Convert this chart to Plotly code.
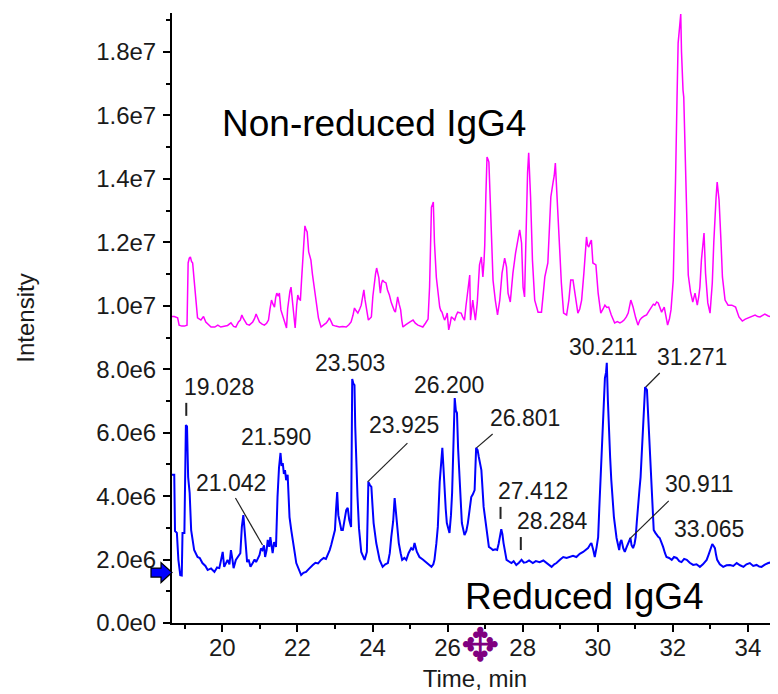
import plotly.graph_objects as go

# ---------------- data ----------------
time_reduced = [18.66, 18.72, 18.74, 18.79, 18.83, 18.88, 18.92, 18.94, 18.99, 19.03, 19.06, 19.09, 19.13, 19.17,
    19.25, 19.34, 19.40, 19.47, 19.55, 19.61, 19.70, 19.79, 19.86, 19.92, 19.96, 20.01, 20.05, 20.10, 20.14,
    20.19, 20.23, 20.27, 20.30, 20.36, 20.43, 20.48, 20.52, 20.56, 20.60, 20.63, 20.66, 20.70, 20.75, 20.81,
    20.86, 20.90, 20.95, 20.99, 21.03, 21.07, 21.11, 21.14, 21.18, 21.21, 21.25, 21.28, 21.31, 21.34, 21.38,
    21.43, 21.47, 21.51, 21.55, 21.58, 21.61, 21.64, 21.67, 21.70, 21.74, 21.79, 21.84, 21.88, 21.93, 21.97,
    22.03, 22.10, 22.16, 22.23, 22.30, 22.36, 22.41, 22.48, 22.55, 22.63, 22.70, 22.76, 22.81, 22.86, 22.90,
    22.95, 23.00, 23.03, 23.06, 23.09, 23.12, 23.17, 23.21, 23.26, 23.30, 23.34, 23.38, 23.43, 23.46, 23.49,
    23.52, 23.54, 23.56, 23.60, 23.64, 23.70, 23.75, 23.79, 23.85, 23.89, 23.93, 23.97, 24.00, 24.03, 24.10,
    24.15, 24.19, 24.27, 24.34, 24.41, 24.46, 24.50, 24.55, 24.59, 24.62, 24.65, 24.70, 24.75, 24.79, 24.85,
    24.90, 24.96, 25.03, 25.08, 25.12, 25.18, 25.25, 25.34, 25.43, 25.50, 25.57, 25.62, 25.65, 25.70, 25.74,
    25.79, 25.83, 25.86, 25.89, 25.92, 25.95, 25.98, 26.05, 26.09, 26.12, 26.16, 26.19, 26.22, 26.25, 26.28,
    26.32, 26.35, 26.38, 26.45, 26.50, 26.54, 26.58, 26.63, 26.67, 26.72, 26.76, 26.80, 26.83, 26.87, 26.90,
    26.96, 27.03, 27.10, 27.16, 27.21, 27.27, 27.32, 27.36, 27.39, 27.43, 27.46, 27.49, 27.57, 27.63, 27.70,
    27.76, 27.83, 27.90, 27.97, 28.03, 28.10, 28.17, 28.27, 28.35, 28.45, 28.55, 28.63, 28.70, 28.77, 28.84,
    28.90, 29.00, 29.08, 29.17, 29.25, 29.34, 29.43, 29.52, 29.61, 29.68, 29.74, 29.80, 29.83, 29.88, 29.92,
    29.97, 30.01, 30.04, 30.07, 30.11, 30.14, 30.17, 30.19, 30.22, 30.24, 30.27, 30.29, 30.33, 30.36, 30.40,
    30.43, 30.50, 30.54, 30.57, 30.60, 30.63, 30.68, 30.72, 30.77, 30.81, 30.87, 30.90, 30.94, 30.98, 31.01,
    31.04, 31.07, 31.11, 31.14, 31.18, 31.21, 31.24, 31.26, 31.29, 31.31, 31.34, 31.37, 31.40, 31.43, 31.46,
    31.49, 31.53, 31.57, 31.61, 31.65, 31.70, 31.74, 31.79, 31.83, 31.90, 31.97, 32.03, 32.10, 32.17, 32.23,
    32.30, 32.37, 32.45, 32.54, 32.63, 32.72, 32.80, 32.90, 32.95, 32.99, 33.05, 33.09, 33.12, 33.15, 33.18,
    33.25, 33.34, 33.43, 33.52, 33.61, 33.70, 33.79, 33.88, 33.96, 34.05, 34.14, 34.23, 34.30, 34.36, 34.45,
    34.54, 34.65, 34.76]

intensity_reduced_e6 = [4.67, 4.67, 2.90, 2.84, 1.99, 1.51, 1.50, 2.84, 2.84, 6.24, 6.20, 4.60, 4.10, 2.93,
    2.30, 2.08, 2.05, 1.89, 1.80, 1.67, 1.72, 1.61, 1.75, 1.73, 1.95, 2.24, 1.77, 1.90, 1.99,
    1.85, 2.30, 2.00, 1.73, 1.99, 2.10, 2.20, 3.03, 3.40, 2.84, 2.20, 1.92, 2.00, 1.77, 1.89,
    2.00, 1.92, 2.05, 2.14, 2.35, 2.30, 2.45, 2.08, 2.30, 2.62, 2.40, 2.71, 2.45, 2.20, 2.55,
    2.40, 3.97, 4.90, 5.36, 4.95, 5.04, 4.70, 4.82, 4.50, 4.67, 3.34, 2.90, 2.52, 2.20, 1.89,
    1.70, 1.51, 1.58, 1.61, 1.70, 1.78, 1.83, 1.90, 1.88, 1.99, 2.05, 2.02, 2.14, 2.30, 2.46,
    2.70, 2.93, 3.60, 4.13, 3.40, 3.25, 2.93, 2.93, 3.30, 3.56, 3.63, 3.25, 3.03, 7.69, 7.55,
    7.50, 6.20, 5.30, 4.00, 2.99, 2.24, 2.10, 1.99, 2.24, 4.45, 4.35, 4.29, 3.70, 3.15, 2.52,
    2.20, 1.99, 1.77, 1.85, 1.89, 2.20, 2.71, 3.20, 3.94, 3.50, 3.15, 2.52, 2.20, 1.99, 2.05,
    1.99, 2.20, 2.36, 2.30, 2.52, 2.25, 2.08, 2.00, 1.92, 1.85, 1.77, 1.85, 1.99, 2.50, 3.03,
    4.45, 5.20, 5.52, 4.90, 4.10, 3.60, 3.15, 2.84, 3.40, 4.10, 5.80, 7.09, 6.70, 6.62, 5.50,
    4.51, 3.80, 3.15, 2.77, 2.90, 3.15, 3.60, 3.97, 4.05, 4.19, 5.52, 5.45, 5.24, 5.00, 4.82,
    3.66, 2.93, 2.40, 2.35, 2.30, 2.32, 2.30, 2.50, 2.71, 2.96, 2.80, 2.52, 1.99, 1.95, 1.89,
    1.95, 1.83, 1.90, 1.99, 1.90, 1.92, 1.97, 1.89, 1.95, 1.92, 1.97, 1.89, 1.82, 1.77, 1.85,
    1.89, 2.00, 2.08, 2.05, 2.08, 2.12, 2.08, 2.18, 2.24, 2.30, 2.36, 2.48, 2.52, 2.30, 2.08,
    2.40, 2.71, 3.60, 4.51, 5.60, 6.46, 7.20, 7.72, 7.90, 8.20, 7.00, 6.18, 5.20, 4.51, 3.90,
    3.34, 2.68, 2.45, 2.30, 2.55, 2.62, 2.35, 2.24, 2.40, 2.52, 2.68, 2.45, 2.36, 2.50, 2.71,
    3.20, 3.78, 4.20, 4.60, 5.60, 6.62, 7.20, 7.44, 7.38, 7.35, 6.60, 5.77, 5.00, 4.19, 3.50,
    2.93, 2.85, 2.77, 2.72, 2.68, 2.55, 2.40, 2.20, 2.08, 2.05, 1.99, 2.08, 2.05, 1.95, 1.92,
    2.02, 1.99, 1.90, 1.83, 1.85, 1.77, 1.85, 1.99, 2.15, 2.30, 2.49, 2.42, 2.36, 2.15, 1.99,
    1.85, 1.77, 1.82, 1.83, 1.80, 1.89, 1.82, 1.77, 1.85, 1.89, 1.80, 1.83, 1.78, 1.77, 1.84,
    1.89, 1.92, 1.99]

time_nonreduced = [18.66, 18.72, 18.81, 18.85, 18.92, 18.99, 19.06, 19.09, 19.12, 19.15, 19.18, 19.21, 19.25,
    19.30, 19.34, 19.43, 19.50, 19.56, 19.63, 19.70, 19.80, 19.88, 19.96, 20.05, 20.14, 20.23, 20.30, 20.36,
    20.43, 20.48, 20.52, 20.56, 20.59, 20.65, 20.72, 20.81, 20.86, 20.90, 20.95, 20.99, 21.06, 21.12, 21.18,
    21.23, 21.27, 21.31, 21.35, 21.39, 21.42, 21.45, 21.49, 21.52, 21.56, 21.60, 21.65, 21.71, 21.74, 21.77,
    21.80, 21.83, 21.87, 21.91, 21.94, 21.98, 22.01, 22.05, 22.08, 22.11, 22.14, 22.17, 22.20, 22.23, 22.26,
    22.30, 22.33, 22.36, 22.40, 22.43, 22.47, 22.50, 22.53, 22.56, 22.60, 22.63, 22.70, 22.77, 22.82, 22.85,
    22.90, 22.94, 23.02, 23.12, 23.20, 23.30, 23.37, 23.43, 23.48, 23.52, 23.56, 23.61, 23.66, 23.70, 23.74,
    23.77, 23.80, 23.83, 23.86, 23.89, 23.93, 23.97, 24.01, 24.05, 24.08, 24.11, 24.14, 24.17, 24.19, 24.21,
    24.24, 24.27, 24.31, 24.36, 24.40, 24.45, 24.50, 24.54, 24.58, 24.61, 24.64, 24.67, 24.71, 24.75, 24.78,
    24.81, 24.88, 24.94, 25.01, 25.08, 25.14, 25.21, 25.28, 25.34, 25.41, 25.48, 25.52, 25.55, 25.57, 25.60,
    25.62, 25.65, 25.67, 25.70, 25.73, 25.76, 25.79, 25.82, 25.85, 25.89, 25.92, 25.96, 25.99, 26.01, 26.03,
    26.07, 26.10, 26.15, 26.19, 26.23, 26.27, 26.32, 26.36, 26.40, 26.45, 26.49, 26.52, 26.56, 26.59, 26.61,
    26.64, 26.67, 26.71, 26.74, 26.79, 26.82, 26.85, 26.90, 26.94, 26.97, 26.99, 27.02, 27.05, 27.08, 27.10,
    27.14, 27.17, 27.21, 27.27, 27.33, 27.39, 27.45, 27.49, 27.52, 27.57, 27.61, 27.67, 27.74, 27.81, 27.85,
    27.88, 27.92, 27.97, 28.01, 28.05, 28.10, 28.13, 28.16, 28.19, 28.21, 28.26, 28.32, 28.41, 28.50, 28.55,
    28.59, 28.67, 28.72, 28.75, 28.81, 28.84, 28.87, 28.91, 28.95, 28.99, 29.03, 29.09, 29.17, 29.23, 29.28,
    29.34, 29.41, 29.47, 29.52, 29.57, 29.63, 29.70, 29.73, 29.76, 29.80, 29.83, 29.87, 29.95, 30.01, 30.08,
    30.14, 30.19, 30.24, 30.29, 30.36, 30.45, 30.52, 30.59, 30.65, 30.70, 30.76, 30.81, 30.88, 30.94, 31.01,
    31.07, 31.12, 31.17, 31.24, 31.30, 31.37, 31.43, 31.48, 31.52, 31.57, 31.61, 31.66, 31.70, 31.77, 31.82,
    31.86, 31.91, 31.95, 32.01, 32.04, 32.07, 32.11, 32.14, 32.18, 32.21, 32.23, 32.25, 32.27, 32.29, 32.32,
    32.34, 32.36, 32.39, 32.41, 32.47, 32.53, 32.59, 32.65, 32.69, 32.72, 32.76, 32.80, 32.83, 32.87, 32.93,
    32.99, 33.05, 33.09, 33.12, 33.15, 33.18, 33.21, 33.23, 33.28, 33.32, 33.39, 33.47, 33.57, 33.67, 33.76,
    33.85, 33.93, 34.01, 34.10, 34.19, 34.26, 34.32, 34.39, 34.45, 34.54, 34.63, 34.72, 34.79]

intensity_nonreduced_e6 = [9.66, 9.66, 9.62, 9.39, 9.36, 9.36, 9.39, 11.35, 11.50, 11.54, 11.40, 11.35, 10.81,
    10.09, 9.62, 9.55, 9.66, 9.49, 9.40, 9.33, 9.33, 9.39, 9.33, 9.36, 9.38, 9.46, 9.35, 9.33,
    9.49, 9.55, 9.71, 9.60, 9.55, 9.42, 9.39, 9.49, 9.60, 9.74, 9.60, 9.49, 9.42, 9.39, 9.45,
    9.55, 9.90, 10.18, 10.05, 9.96, 10.25, 10.40, 10.30, 10.40, 9.87, 9.70, 9.49, 9.30, 9.90, 10.28,
    10.45, 10.59, 10.18, 9.70, 9.30, 10.00, 10.34, 10.20, 10.18, 10.80, 11.35, 12.00, 12.52, 12.40, 12.33,
    11.70, 11.55, 11.44, 11.00, 10.72, 10.40, 10.12, 9.85, 9.62, 9.45, 9.33, 9.40, 9.46, 9.55, 9.62,
    9.50, 9.39, 9.36, 9.33, 9.35, 9.33, 9.40, 9.49, 9.70, 9.93, 9.85, 9.77, 9.90, 10.02, 10.30,
    10.50, 10.20, 9.96, 9.70, 9.55, 9.60, 9.65, 10.30, 10.81, 11.00, 11.19, 11.00, 10.88, 10.60, 10.40,
    10.70, 10.81, 10.75, 10.72, 10.50, 10.34, 10.10, 9.96, 9.85, 9.80, 10.10, 10.28, 10.05, 9.87, 9.55,
    9.33, 9.40, 9.46, 9.50, 9.55, 9.45, 9.39, 9.36, 9.33, 9.45, 9.58, 10.59, 12.50, 13.11, 13.20,
    13.27, 12.00, 11.29, 10.90, 10.59, 10.20, 9.96, 9.85, 9.80, 9.65, 9.55, 9.65, 9.77, 9.50, 9.24,
    9.45, 9.65, 9.60, 9.55, 9.70, 9.80, 9.78, 9.77, 9.65, 9.55, 10.00, 10.28, 10.72, 10.97, 9.55,
    9.90, 10.18, 9.80, 9.55, 10.09, 10.70, 11.29, 11.54, 10.91, 11.40, 11.92, 13.50, 14.69, 14.60, 14.53,
    13.20, 12.29, 10.81, 10.18, 9.71, 10.18, 11.03, 11.30, 11.50, 11.22, 10.40, 10.12, 11.03, 11.66, 11.90,
    12.07, 12.39, 11.98, 10.59, 10.28, 13.02, 14.20, 14.82, 14.00, 13.43, 11.44, 10.18, 9.80, 9.80, 10.40,
    10.91, 11.35, 12.80, 13.43, 13.90, 14.10, 14.50, 13.49, 12.50, 11.66, 10.72, 9.77, 9.71, 10.18, 10.81,
    10.81, 10.18, 9.77, 9.90, 10.18, 11.03, 12.17, 11.90, 11.85, 12.00, 12.07, 11.35, 11.29, 10.40, 9.77,
    9.90, 10.02, 9.95, 9.96, 9.71, 9.46, 9.50, 9.46, 9.50, 9.55, 9.65, 9.77, 10.18, 9.96, 9.62,
    9.39, 9.55, 9.62, 9.68, 9.71, 9.85, 9.96, 10.05, 10.02, 10.12, 10.09, 9.90, 9.80, 9.96, 9.60,
    9.39, 9.60, 9.87, 10.81, 12.20, 13.90, 16.50, 18.28, 18.80, 19.20, 18.00, 17.20, 16.80, 16.58, 15.13,
    14.20, 13.65, 12.00, 10.97, 10.44, 10.12, 10.40, 10.02, 10.30, 10.59, 11.44, 11.90, 12.29, 11.03, 10.09,
    9.77, 10.72, 12.00, 12.92, 13.40, 13.90, 13.60, 13.34, 12.07, 10.91, 10.18, 10.02, 10.02, 9.96, 9.65,
    9.52, 9.58, 9.62, 9.66, 9.71, 9.66, 9.65, 9.70, 9.74, 9.68, 9.65, 9.60, 9.58]

peak_labels = ["19.028", "21.042", "21.590", "23.503", "23.925", "26.200", "26.801",
               "27.412", "28.284", "30.211", "31.271", "30.911", "33.065"]

x_tick_values = [20, 22, 24, 26, 28, 30, 32, 34]
x_minor_values = [19, 21, 23, 25, 27, 29, 31, 33]
y_tick_values = [0, 2e6, 4e6, 6e6, 8e6, 1.0e7, 1.2e7, 1.4e7, 1.6e7, 1.8e7]
y_tick_labels = ["0.0e0", "2.0e6", "4.0e6", "6.0e6", "8.0e6", "1.0e7", "1.2e7", "1.4e7", "1.6e7", "1.8e7"]
y_minor_values = [1e6, 3e6, 5e6, 7e6, 9e6, 1.1e7, 1.3e7, 1.5e7, 1.7e7, 1.9e7]

# ---------------- styling / layout ----------------
# the page body adds an 8 px offset, so the figure is laid out 8 px up/left
FONT = "Liberation Sans, Arial, sans-serif"
TXT = "#1a1a1a"
LAB_SIZE = 23
TICK_SIZE = 24

fig = go.Figure()
fig.add_trace(go.Scatter(x=time_nonreduced, y=[v * 1e6 for v in intensity_nonreduced_e6],
                         mode="lines", line=dict(color="#ff00ff", width=1.5),
                         name="Non-reduced IgG4", showlegend=False))
fig.add_trace(go.Scatter(x=time_reduced, y=[v * 1e6 for v in intensity_reduced_e6],
                         mode="lines", line=dict(color="#0000ff", width=2),
                         name="Reduced IgG4", showlegend=False))

# label placement (text centre in data units) and optional leader line
label_layout = {
    "19.028": dict(x=19.92, y=7.44e6, line=(19.04, 6.94e6, 19.04, 6.53e6), lw=2),
    "21.042": dict(x=20.24, y=4.41e6, line=(20.35, 3.94e6, 21.07, 2.46e6), lw=1.2),
    "21.590": dict(x=21.44, y=5.86e6),
    "23.503": dict(x=23.41, y=8.20e6),
    "23.925": dict(x=24.83, y=6.24e6, line=(24.93, 5.67e6, 23.87, 4.45e6), lw=1.2),
    "26.200": dict(x=26.05, y=7.50e6),
    "26.801": dict(x=28.05, y=6.46e6, line=(27.20, 5.96e6, 26.77, 5.52e6), lw=1.2),
    "27.412": dict(x=28.27, y=4.16e6, line=(27.41, 3.66e6, 27.41, 3.28e6), lw=2),
    "28.284": dict(x=28.80, y=3.22e6, line=(27.95, 2.71e6, 27.95, 2.30e6), lw=2),
    "30.211": dict(x=30.16, y=8.70e6),
    "31.271": dict(x=32.51, y=8.39e6, line=(31.65, 7.88e6, 31.28, 7.44e6), lw=1.2),
    "30.911": dict(x=32.72, y=4.38e6, line=(31.89, 3.85e6, 30.85, 2.65e6), lw=1.2),
    "33.065": dict(x=32.96, y=2.96e6),
}

for lab in peak_labels:
    p = label_layout[lab]
    fig.add_annotation(x=p["x"], y=p["y"], text=lab, showarrow=False,
                       font=dict(family=FONT, size=LAB_SIZE, color=TXT))
    if "line" in p:
        x0, y0, x1, y1 = p["line"]
        fig.add_shape(type="line", x0=x0, y0=y0, x1=x1, y1=y1, xref="x", yref="y",
                      line=dict(color="#222222", width=p["lw"]))

fig.add_annotation(x=24.03, y=15.76e6, text="Non-reduced IgG4", showarrow=False,
                   font=dict(family=FONT, size=37, color="black"))
fig.add_annotation(x=29.65, y=0.85e6, text="Reduced IgG4", showarrow=False,
                   font=dict(family=FONT, size=37, color="black"))

# blue block arrow marking the reduced trace baseline (left of the y axis)
PLOT_W = 770 - 164
PX_PER_E6 = 31.72
ARROW_Y = 1.59e6
def px(dx):
    return dx / PLOT_W
def py(dy):
    return dy / PX_PER_E6 * 1e6
arrow_pts = [(px(0), 0), (px(-11), py(10)), (px(-11), py(4.5)), (px(-21), py(4.5)),
             (px(-21), py(-4.5)), (px(-11), py(-4.5)), (px(-11), py(-10))]
arrow_path = "M " + " L ".join(f"{x:.5f},{ARROW_Y + y:.1f}" for x, y in arrow_pts) + " Z"
fig.add_shape(type="path", path=arrow_path, xref="paper", yref="y",
              fillcolor="#0000ff", line=dict(color="black", width=1.2), layer="above")

# purple marker below the x axis
fig.add_annotation(x=26.88, y=-0.083, xref="x", yref="paper", text="✥", showarrow=False,
                   font=dict(family="DejaVu Sans", size=46, color="#800080"))

fig.update_layout(
    template="none",
    width=770, height=686,
    margin=dict(l=164, r=0, t=5, b=71, autoexpand=False),
    paper_bgcolor="white", plot_bgcolor="white",
    showlegend=False,
    xaxis=dict(range=[18.66, 34.8], showgrid=False, zeroline=False, automargin=False,
               showline=True, linecolor="black", linewidth=2,
               ticks="outside", ticklen=7, tickwidth=1.5, tickcolor="black",
               tickmode="array", tickvals=x_tick_values,
               ticktext=[str(v) for v in x_tick_values],
               minor=dict(tickmode="array", tickvals=x_minor_values, ticks="outside",
                          ticklen=4, tickwidth=1.5, tickcolor="black"),
               tickfont=dict(family=FONT, size=TICK_SIZE, color=TXT),
               ticklabelstandoff=-5,
               title=dict(text="Time, min", standoff=10,
                          font=dict(family=FONT, size=24, color=TXT))),
    yaxis=dict(range=[0, 1.923e7], showgrid=False, zeroline=False, automargin=False,
               showline=True, linecolor="black", linewidth=2,
               ticks="outside", ticklen=7, tickwidth=1.5, tickcolor="black",
               tickmode="array", tickvals=y_tick_values, ticktext=y_tick_labels,
               minor=dict(tickmode="array", tickvals=y_minor_values, ticks="outside",
                          ticklen=4, tickwidth=1.5, tickcolor="black"),
               tickfont=dict(family=FONT, size=TICK_SIZE, color=TXT),
               ticklabelstandoff=2,
               title=dict(text="Intensity", standoff=55,
                          font=dict(family=FONT, size=24, color=TXT))),
)

fig.write_html("out.html")
